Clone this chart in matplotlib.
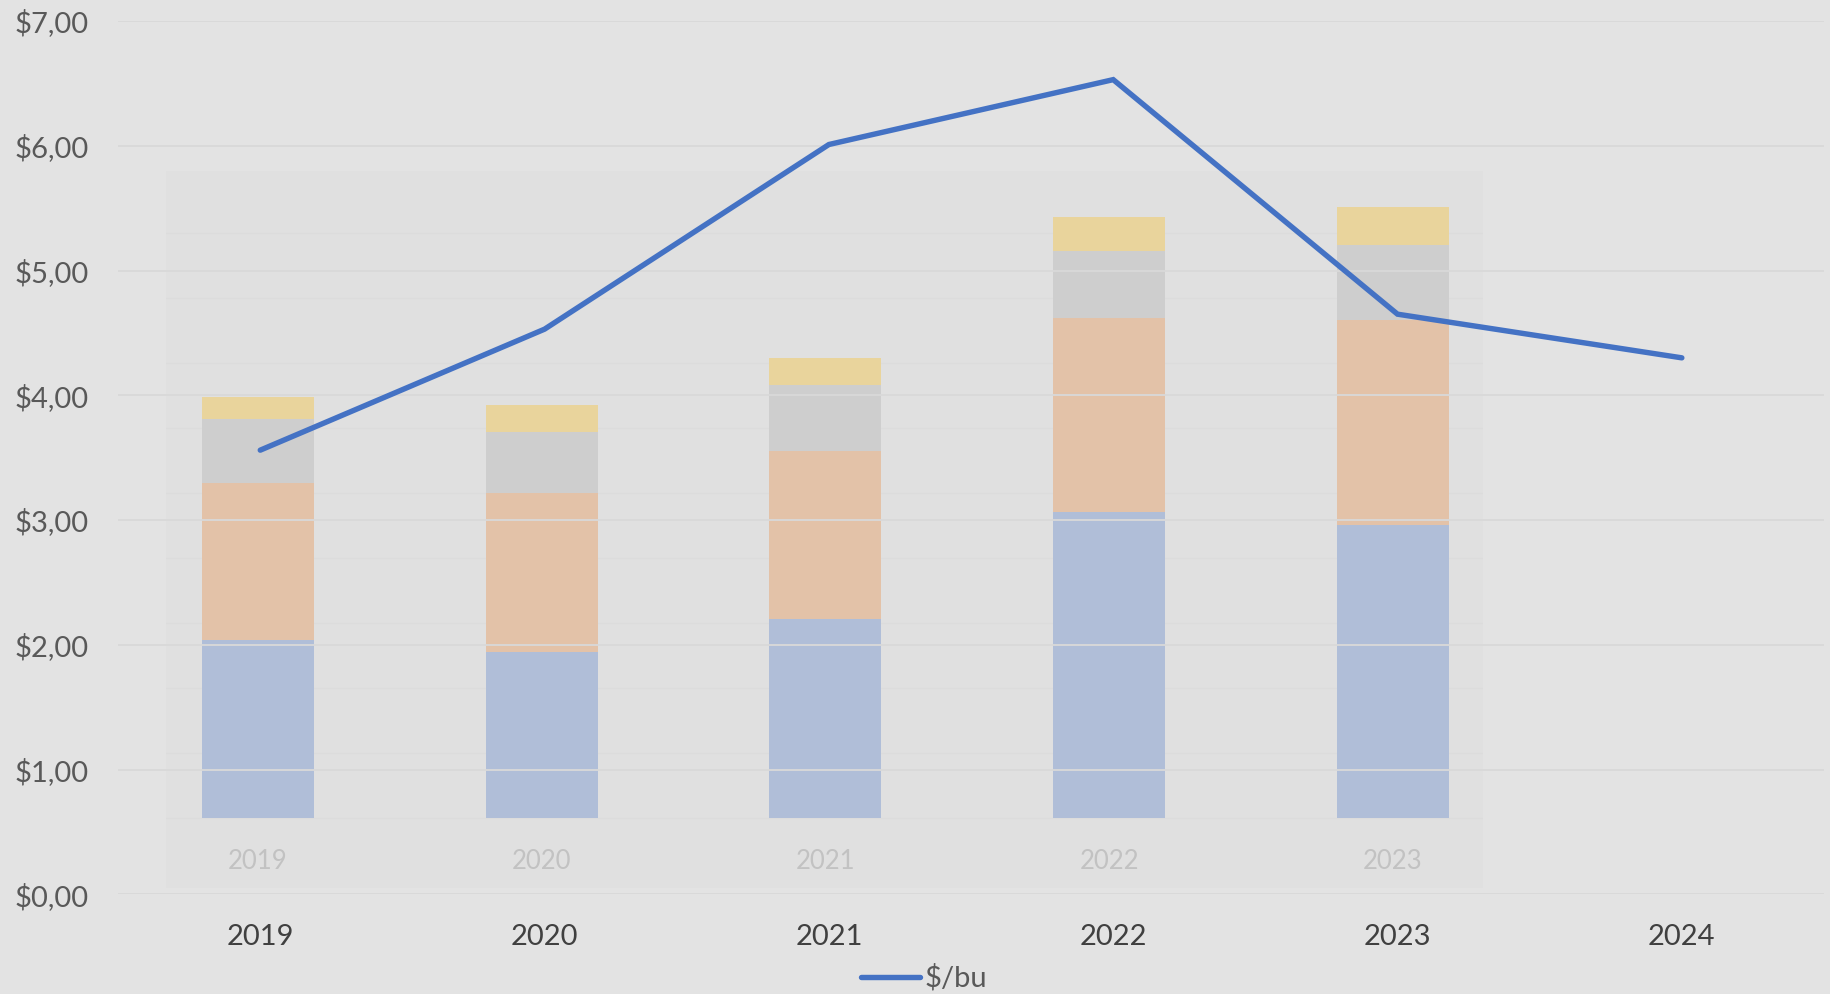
import matplotlib
matplotlib.use("Agg")
import matplotlib.pyplot as plt
import numpy as np

# ---- data ----
years = ["2019", "2020", "2021", "2022", "2023", "2024"]
price = [3.56, 4.53, 6.01, 6.53, 4.65, 4.30]

bar_years = ["2019", "2020", "2021", "2022", "2023"]
seg_blue = [1.37, 1.28, 1.53, 2.35, 2.25]
seg_orange = [1.21, 1.22, 1.29, 1.50, 1.58]
seg_gray = [0.49, 0.47, 0.51, 0.51, 0.58]
seg_yellow = [0.17, 0.21, 0.21, 0.26, 0.29]

ytick_vals = [0, 1, 2, 3, 4, 5, 6, 7]
ytick_labels = ["$0,00", "$1,00", "$2,00", "$3,00", "$4,00", "$5,00", "$6,00", "$7,00"]

FONT = ["Lato", "DejaVu Sans"]
plt.rcParams["font.family"] = FONT

W, H = 1830, 994
fig = plt.figure(figsize=(W / 100, H / 100), dpi=100, facecolor="#e3e3e3")

# ---- inner (pasted) stacked bar panel ----
in_l, in_r, in_t, in_b = 165.8, 1482.7, 171.0, 888.3
ax_in = fig.add_axes([in_l / W, (H - in_b) / H, (in_r - in_l) / W, (in_b - in_t) / H], zorder=0)
ax_in.set_facecolor("#e0e0e0")
x_in = np.arange(len(bar_years))
bw = 0.395
b1 = np.array(seg_blue)
b2 = b1 + np.array(seg_orange)
b3 = b2 + np.array(seg_gray)
ax_in.bar(x_in, seg_blue, bw, color="#b0bed8", zorder=2)
ax_in.bar(x_in, seg_orange, bw, bottom=b1, color="#e3c2a8", zorder=2)
ax_in.bar(x_in, seg_gray, bw, bottom=b2, color="#cecece", zorder=2)
ax_in.bar(x_in, seg_yellow, bw, bottom=b3, color="#e9d49c", zorder=2)
ax_in.set_xlim(-0.3246, 4.3165)
ax_in.set_ylim(-0.541, 4.977)
for gy in np.arange(0, 4.51, 0.5):
    ax_in.axhline(gy, color="#dcdcdc", lw=0.9, zorder=1)
for i, lab in enumerate(bar_years):
    ax_in.text(i, -0.335, lab, ha="center", va="center", color="#c2c2c2",
               fontsize=18.5, family=FONT)
ax_in.set_xticks([])
ax_in.set_yticks([])
for s in ax_in.spines.values():
    s.set_visible(False)

# ---- outer line chart ----
ox_l, ox_r, oy_t, oy_b = 118.1, 1824.0, 21.0, 894.3
ax = fig.add_axes([ox_l / W, (H - oy_b) / H, (ox_r - ox_l) / W, (oy_b - oy_t) / H], zorder=1)
ax.set_facecolor("none")
x = np.arange(len(years))
line, = ax.plot(x, price, color="#4472c4", lw=3.9, solid_capstyle="round",
                solid_joinstyle="miter", zorder=5, label="$/bu")
ax.set_xlim(-0.5, len(years) - 0.5)
ax.set_ylim(0, 7)
ax.set_yticks(ytick_vals)
ax.set_yticklabels(ytick_labels)
ax.set_xticks(x)
ax.set_xticklabels(years)
ax.yaxis.grid(True, color="#d9d9d9", lw=1.3, zorder=3)
ax.set_axisbelow(False)
ax.tick_params(axis="y", length=0, pad=21, labelsize=21, labelcolor="#595959")
ax.tick_params(axis="x", length=0, pad=21.5, labelsize=21, labelcolor="#404040")
for s in ax.spines.values():
    s.set_visible(False)

leg = fig.legend(handles=[line], loc="center", bbox_to_anchor=(0.505, 0.016),
                 frameon=False, fontsize=21, handlelength=2.0, handletextpad=0.15,
                 labelcolor="#595959")

fig.savefig("out.png", dpi=100, facecolor=fig.get_facecolor())
